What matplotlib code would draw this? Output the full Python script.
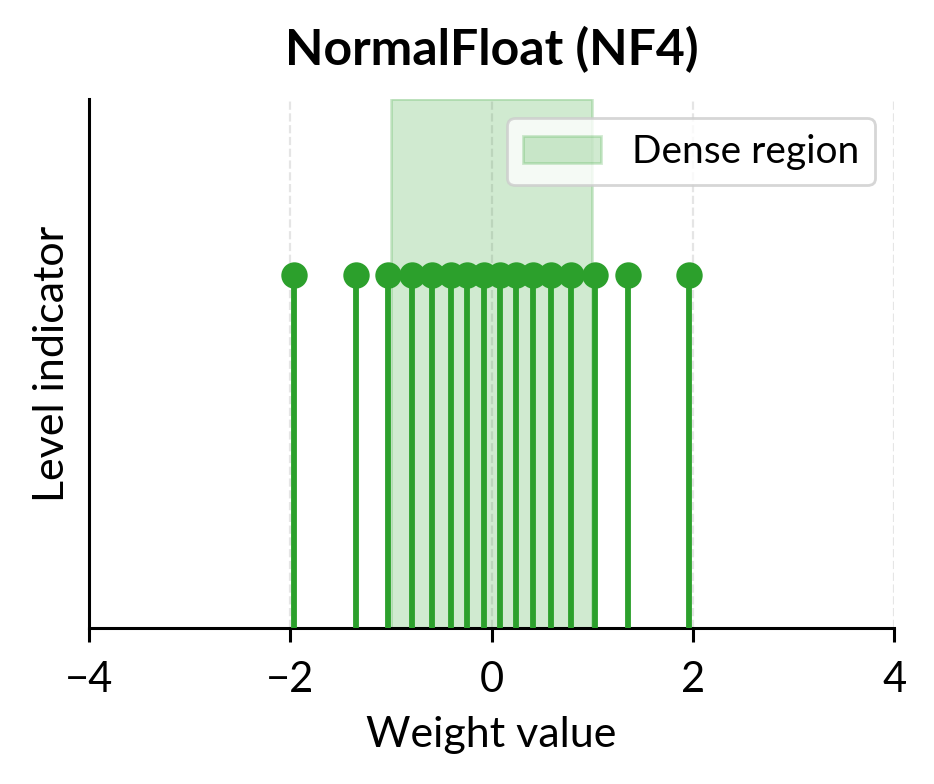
import matplotlib
matplotlib.use("Agg")
import matplotlib.pyplot as plt
import numpy as np

# NF4 quantile levels
levels = [-1.960, -1.351, -1.030, -0.789, -0.588, -0.408, -0.240, -0.079,
          0.079, 0.240, 0.408, 0.588, 0.789, 1.030, 1.351, 1.960]
heights = [1.0] * len(levels)
dense_lo, dense_hi = -1.0, 1.0
xticks = [-4, -2, 0, 2, 4]

plt.rcParams['font.family'] = ['Lato', 'DejaVu Sans']

fig = plt.figure(figsize=(4.67, 3.92), dpi=200)
ax = fig.add_axes([0.0953, 0.199, 0.862, 0.675])

green = '#2ca02c'
ax.axvspan(dense_lo, dense_hi, color=green, alpha=0.22, label='Dense region', zorder=1)
markers, stems, base = ax.stem(levels, heights, basefmt=' ')
plt.setp(stems, color=green, linewidth=2.1, zorder=3)
plt.setp(markers, color=green, markersize=8.5, zorder=4)

ax.set_xlim(-4, 4)
ax.set_ylim(0, 1.5)
ax.set_xticks(xticks)
ax.set_xticklabels(['\u22124', '\u22122', '0', '2', '4'])
ax.set_yticks([])
ax.grid(axis='x', linestyle='--', color='#cccccc', alpha=0.5, linewidth=0.8, zorder=0)
ax.set_axisbelow(True)
ax.spines['top'].set_visible(False)
ax.spines['right'].set_visible(False)
for s in ('left', 'bottom'):
    ax.spines[s].set_linewidth(1.1)
ax.tick_params(axis='x', labelsize=15, length=5, width=1.1, pad=7)

ax.set_xlabel('Weight value', fontsize=15.5, labelpad=6)
ax.set_ylabel('Level indicator', fontsize=15.5, labelpad=6.5)
ax.set_title('NormalFloat (NF4)', fontsize=18, fontweight='bold', pad=12)
ax.legend(loc='upper right', fontsize=14, fancybox=True, framealpha=0.8)

fig.savefig('out.png', dpi=200)
